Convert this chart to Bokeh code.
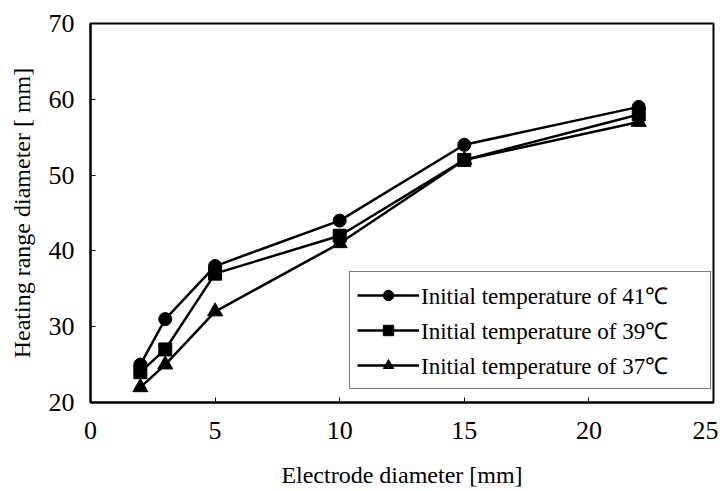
from bokeh.plotting import figure
from bokeh.models import Range1d, Legend, LegendItem, FixedTicker
from bokeh.embed import file_html
from bokeh.resources import INLINE

electrode = [2, 3, 5, 10, 15, 22]
t41 = [25, 31, 38, 44, 54, 59]
t39 = [24, 27, 37, 42, 52, 58]
t37 = [22, 25, 32, 41, 52, 57]
labels = ["Initial temperature of 41\u2103", "Initial temperature of 39\u2103", "Initial temperature of 37\u2103"]
x_ticks = [0, 5, 10, 15, 20, 25]
y_ticks = [20, 30, 40, 50, 60, 70]
x_title = "Electrode diameter [mm]"
y_title = "Heating range diameter [ mm]"

FONT = "Liberation Serif"

p = figure(width=718, height=500, output_backend="svg", toolbar_location=None,
           x_range=Range1d(0, 25), y_range=Range1d(20, 70),
           min_border_left=90, min_border_right=5, min_border_top=23, min_border_bottom=98)
p.xgrid.visible = False
p.ygrid.visible = False
p.outline_line_color = "black"
p.outline_line_width = 2
p.outline_line_alpha = 1

for ax in (p.xaxis, p.yaxis):
    ax.axis_line_color = "black"
    ax.axis_line_width = 2
    ax.major_tick_in = 5
    ax.major_tick_out = 0
    ax.minor_tick_in = 0
    ax.minor_tick_out = 0
    ax.major_tick_line_color = "black"
    ax.major_tick_line_width = 1
    ax.major_label_text_font = FONT
    ax.major_label_text_font_size = "26px"
    ax.major_label_text_color = "black"
    ax.axis_label_text_font = FONT
    ax.axis_label_text_font_size = "24px"
    ax.axis_label_text_font_style = "normal"
    ax.axis_label_text_color = "black"

p.xaxis.ticker = FixedTicker(ticks=x_ticks)
p.yaxis.ticker = FixedTicker(ticks=y_ticks)
p.xaxis.major_label_standoff = 19
p.yaxis.major_label_standoff = 16
p.xaxis.axis_label = x_title
p.yaxis.axis_label = y_title
p.xaxis.axis_label_standoff = 20
p.yaxis.axis_label_standoff = 11

lw = 2.5
r1l = p.line(electrode, t41, line_color="black", line_width=lw)
r1m = p.scatter(electrode, t41, marker="circle", size=13, fill_color="black", line_color="black")
r2l = p.line(electrode, t39, line_color="black", line_width=lw)
r2m = p.scatter(electrode, t39, marker="square", size=13, fill_color="black", line_color="black")
r3l = p.line(electrode, t37, line_color="black", line_width=lw)
r3m = p.scatter(electrode, t37, marker="triangle", size=15, fill_color="black", line_color="black")

legend = Legend(items=[
    LegendItem(label=labels[0], renderers=[r1l, r1m]),
    LegendItem(label=labels[1], renderers=[r2l, r2m]),
    LegendItem(label=labels[2], renderers=[r3l, r3m]),
], location=(259, 13))
legend.label_text_font = FONT
legend.label_text_font_size = "23px"
legend.label_text_color = "black"
legend.glyph_width = 62
legend.glyph_height = 26
legend.label_height = 26
legend.label_width = 282
legend.spacing = 3
legend.padding = 7
legend.margin = 0
legend.label_standoff = 2
legend.border_line_color = "black"
legend.border_line_width = 1
legend.background_fill_alpha = 1
p.add_layout(legend, "center")

open("out.html", "w").write(file_html(p, INLINE))
